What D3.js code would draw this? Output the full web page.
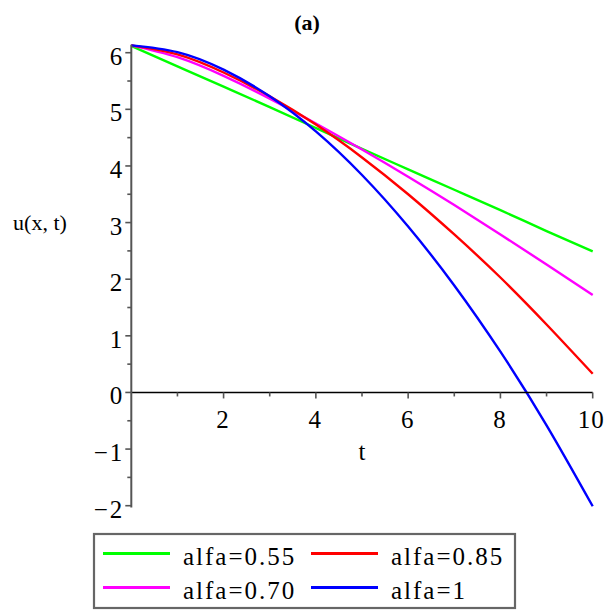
<!DOCTYPE html>
<html>
<head>
<meta charset="utf-8">
<script src="https://cdn.jsdelivr.net/npm/d3@7"></script>
<style>
  html, body { margin: 0; padding: 0; background: #fff; }
  svg { display: block; }
</style>
</head>
<body>
<svg id="chart" width="606" height="610"></svg>
<script>
// time samples and u(x,t) for each fractional order
const tValues = [0, 1, 2, 3, 4, 5, 6, 7, 8, 9, 10];
const u055 = [6.12, 5.76, 5.40, 5.04, 4.67, 4.30, 3.94, 3.58, 3.22, 2.85, 2.49];
const u070 = [6.13, 5.92, 5.59, 5.19, 4.75, 4.29, 3.81, 3.31, 2.79, 2.26, 1.72];
const u085 = [6.13, 5.97, 5.65, 5.23, 4.73, 4.15, 3.50, 2.79, 2.03, 1.20, 0.33];
const u100 = [6.13, 6.01, 5.70, 5.23, 4.61, 3.84, 2.93, 1.89, 0.72, -0.58, -2.01];

const seriesNames  = ["alfa=0.55", "alfa=0.70", "alfa=0.85", "alfa=1"];
const seriesColors = ["#00ff00", "#ff00ff", "#ff0000", "#0000ff"];
const seriesValues = [u055, u070, u085, u100];

const xMajorTicks = [2, 4, 6, 8, 10];
const xMinorTicks = [1, 3, 5, 7, 9];
const yMajorTicks = [-2, -1, 0, 1, 2, 3, 4, 5, 6];
const yMinorTicks = [-1.5, -0.5, 0.5, 1.5, 2.5, 3.5, 4.5, 5.5];

const FONT = "'Liberation Serif', 'DejaVu Serif', serif";

const svg = d3.select("#chart")
  .attr("font-family", FONT);

const x = d3.scaleLinear().domain([0, 10]).range([131.3, 592.7]);
const y = d3.scaleLinear().domain([-2, 6]).range([505.7, 52.7]);

// curves
const line = d3.line()
  .x((d, i) => x(tValues[i]))
  .y(d => y(d))
  .curve(d3.curveNatural);

svg.append("g").selectAll("path")
  .data(seriesValues)
  .join("path")
  .attr("d", d => line(d))
  .attr("fill", "none")
  .attr("stroke", (d, i) => seriesColors[i])
  .attr("stroke-width", 2.4);

// horizontal axis through u = 0
const xAxis = svg.append("g");
xAxis.append("line")
  .attr("x1", x(0)).attr("x2", x(10))
  .attr("y1", y(0)).attr("y2", y(0))
  .attr("stroke", "#000").attr("stroke-width", 1.6);
xAxis.selectAll(".xmaj").data(xMajorTicks).join("line")
  .attr("x1", d => x(d)).attr("x2", d => x(d))
  .attr("y1", y(0)).attr("y2", y(0) + 6)
  .attr("stroke", "#555").attr("stroke-width", 1.6);
xAxis.selectAll(".xmin").data(xMinorTicks).join("line")
  .attr("x1", d => x(d)).attr("x2", d => x(d))
  .attr("y1", y(0)).attr("y2", y(0) + 4)
  .attr("stroke", "#555").attr("stroke-width", 1.6);
xAxis.selectAll("text").data(xMajorTicks).join("text")
  .attr("x", d => d === 10 ? x(d) - 1.5 : x(d))
  .attr("y", y(0) + 36)
  .attr("text-anchor", "middle")
  .attr("font-family", FONT)
  .attr("font-size", 25)
  .attr("letter-spacing", d => d === 10 ? 1 : 2)
  .text(d => d);

// vertical axis at t = 0
const yAxis = svg.append("g");
yAxis.append("line")
  .attr("x1", x(0)).attr("x2", x(0))
  .attr("y1", y(6.14)).attr("y2", y(-2.03))
  .attr("stroke", "#555").attr("stroke-width", 2);
yAxis.selectAll(".ymaj").data(yMajorTicks).join("line")
  .attr("x1", x(0) - 6).attr("x2", x(0))
  .attr("y1", d => y(d)).attr("y2", d => y(d))
  .attr("stroke", "#555").attr("stroke-width", 1.6);
yAxis.selectAll(".ymin").data(yMinorTicks).join("line")
  .attr("x1", x(0) - 4).attr("x2", x(0))
  .attr("y1", d => y(d)).attr("y2", d => y(d))
  .attr("stroke", "#555").attr("stroke-width", 1.6);
yAxis.selectAll("text").data(yMajorTicks).join("text")
  .attr("x", x(0) - 7)
  .attr("y", d => y(d) + 12)
  .attr("text-anchor", "end")
  .attr("font-family", FONT)
  .attr("font-size", 25)
  .attr("letter-spacing", 2)
  .text(d => d < 0 ? "\u2212" + Math.abs(d) : d);

// axis titles
svg.append("text")
  .attr("x", x(5)).attr("y", 460)
  .attr("text-anchor", "middle")
  .attr("font-family", FONT)
  .attr("font-size", 25)
  .text("t");
svg.append("text")
  .attr("x", 40).attr("y", 230)
  .attr("text-anchor", "middle")
  .attr("font-family", FONT)
  .attr("font-size", 22)
  .text("u(x, t)");

// panel title
svg.append("text")
  .attr("x", 307).attr("y", 30)
  .attr("text-anchor", "middle")
  .attr("font-family", FONT)
  .attr("font-size", 22)
  .attr("font-weight", "bold")
  .text("(a)");

// legend, two columns
const legend = svg.append("g");
legend.append("rect")
  .attr("x", 94).attr("y", 534)
  .attr("width", 421).attr("height", 74)
  .attr("fill", "#fff")
  .attr("stroke", "#666").attr("stroke-width", 2.2);

const colX = [103, 311];
const rowY = [553.5, 587.5];
const order = [[0, 0], [1, 0], [0, 1], [1, 1]]; // [row, col] for each series
const items = legend.selectAll("g.item")
  .data(seriesNames)
  .join("g")
  .attr("transform", (d, i) => `translate(${colX[order[i][1]]},${rowY[order[i][0]]})`);
items.append("line")
  .attr("x1", 0).attr("x2", 67)
  .attr("y1", 0).attr("y2", 0)
  .attr("stroke", (d, i) => seriesColors[i])
  .attr("stroke-width", 3);
items.append("text")
  .attr("x", 80).attr("y", 11)
  .attr("font-family", FONT)
  .attr("font-size", 25)
  .attr("letter-spacing", 2)
  .text(d => d);
</script>
</body>
</html>
